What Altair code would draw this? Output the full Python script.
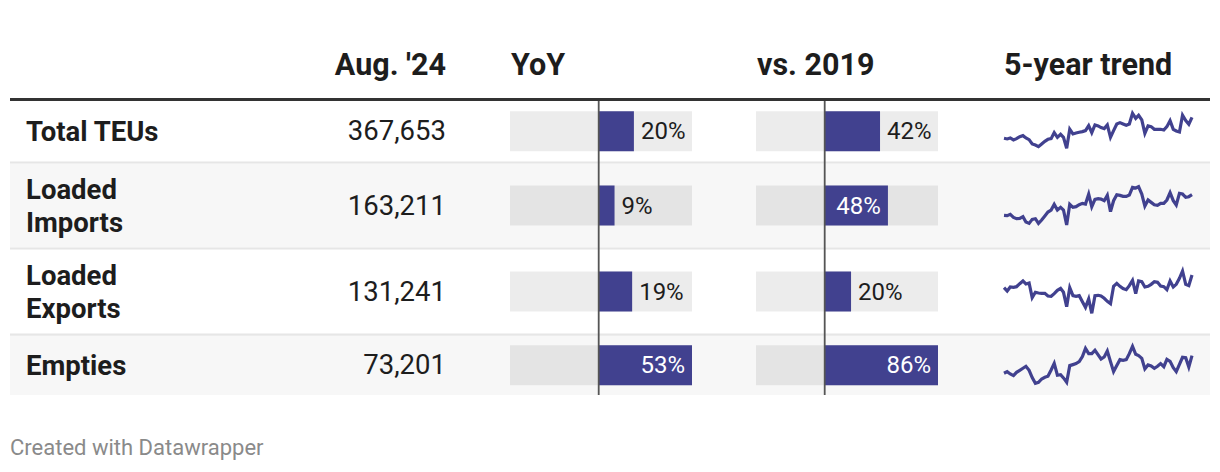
import altair as alt
import pandas as pd

# ---------------- data ----------------
categories = ["Total TEUs", "Loaded Imports", "Loaded Exports", "Empties"]
category_lines = [["Total TEUs"], ["Loaded", "Imports"], ["Loaded", "Exports"], ["Empties"]]
aug24_teus = [367653, 163211, 131241, 73201]
yoy_pct = [20, 9, 19, 53]
vs2019_pct = [42, 48, 20, 86]
column_headers = ["Aug. '24", "YoY", "vs. 2019", "5-year trend"]
footer_text = "Created with Datawrapper"
trend_start, trend_end = "2019-08-01", "2024-08-01"

# monthly volumes, thousand TEUs (read from the sparklines)
trend_total = [259.3, 255.9, 261.1, 250.7, 257.6, 267.9, 273.1, 261.1, 252.5, 230.1,
               224.9, 216.3, 230.1, 243.9, 254.2, 257.6, 288.6, 264.5, 280.0, 264.5,
               207.7, 305.8, 281.7, 286.9, 290.3, 293.7, 298.9, 324.7, 288.6, 328.1,
               323.0, 314.4, 309.2, 328.1, 264.5, 298.9, 333.3, 340.2, 333.3, 326.4,
               333.3, 388.3, 362.5, 378.0, 353.9, 285.1, 323.0, 319.5, 305.8, 305.8,
               305.8, 302.3, 319.5, 350.5, 305.8, 297.2, 292.0, 378.0, 350.5, 331.6, 367.7]
trend_imports = [110.3, 109.5, 112.9, 105.2, 101.8, 102.6, 106.9, 93.3, 89.8, 100.1,
                 101.8, 89.8, 98.4, 108.6, 118.8, 124.0, 138.5, 124.0, 130.8, 124.0,
                 85.6, 138.5, 130.8, 132.5, 137.6, 141.0, 139.3, 164.9, 132.5, 151.3,
                 153.0, 152.1, 147.8, 161.5, 119.7, 147.8, 163.2, 161.5, 158.9, 158.9,
                 162.3, 182.0, 180.3, 183.7, 164.9, 134.2, 149.6, 143.6, 137.6, 135.9,
                 141.0, 141.0, 149.6, 168.3, 147.8, 136.8, 166.6, 164.9, 156.4, 158.1, 163.2]
trend_exports = [109.4, 103.6, 110.5, 110.0, 111.1, 116.3, 120.9, 115.7, 117.4, 92.2,
                 101.4, 100.2, 99.6, 99.6, 95.0, 94.5, 99.1, 104.8, 108.2, 101.4,
                 76.7, 109.4, 95.6, 94.5, 95.6, 85.3, 75.5, 89.9, 65.2, 95.6,
                 96.2, 95.0, 91.0, 85.9, 81.8, 111.7, 116.8, 111.7, 107.7, 105.9,
                 112.8, 122.0, 99.1, 120.9, 119.7, 110.5, 111.7, 115.1, 119.7, 118.6,
                 112.3, 111.1, 105.9, 120.9, 110.5, 115.1, 125.5, 138.1, 115.1, 112.8, 131.2]
trend_empties = [39.4, 42.6, 38.1, 34.9, 41.3, 45.1, 49.0, 52.8, 45.1, 31.1,
                 20.2, 22.2, 28.5, 31.7, 33.6, 45.8, 58.5, 35.6, 36.8, 30.5,
                 22.2, 54.1, 56.0, 57.9, 61.7, 71.3, 87.2, 77.0, 77.0, 83.4,
                 74.5, 66.8, 70.6, 82.1, 61.7, 42.6, 54.1, 65.5, 64.3, 65.5,
                 77.0, 91.1, 75.8, 73.2, 68.1, 47.7, 55.3, 53.4, 49.0, 52.8,
                 57.9, 52.1, 66.2, 62.4, 50.2, 42.6, 56.6, 70.0, 69.4, 51.5, 73.2]
trends = [trend_total, trend_imports, trend_exports, trend_empties]

# ---------------- layout (page pixels) ----------------
W, H = 1204, 455
M = 8


def px(v):
    return v - M


ROW_TOP = [101.0, 163.5, 249.5, 335.7]
ROW_H = [60.5, 84.0, 84.0, 59.3]
ROW_FILL = ["#ffffff", "#f7f7f7", "#ffffff", "#f7f7f7"]
SEP_COLOR = "#e6e6e6"
TABLE_L, TABLE_R = 10, 1210
BAR_H = 40
LINE_H = 33
YOY_COL = (510, 598.7, 692)
VS_COL = (756, 824.7, 938)
SPARK_X = (1004, 1192)
SPARK_Y = [(113.3, 148.3), (186.7, 225.0), (271.0, 313.3), (346.3, 383.3)]
NAVY = "#41418f"
INK = "#1d1d1d"
FONT = "Roboto"
INSIDE_MIN_PX = 60


def ident_x():
    return alt.Scale(domain=[0, W], range=[0, W], nice=False, zero=False)


def ident_y():
    return alt.Scale(domain=[0, H], range=[0, H], nice=False, zero=False)


def bar_domain(values, col):
    left, zero, right = col
    vmax = max(values)
    vmin = -vmax * (zero - left) / (right - zero)
    return vmin, vmax


def bar_scale(values, col):
    vmin, vmax = bar_domain(values, col)
    return alt.Scale(domain=[vmin, vmax], range=[px(col[0]), px(col[2])], nice=False, zero=False)


yoy_lo, yoy_hi = bar_domain(yoy_pct, YOY_COL)
vs_lo, vs_hi = bar_domain(vs2019_pct, VS_COL)

row_records = []
line_records = []
for i, cat in enumerate(categories):
    top = ROW_TOP[i]
    bot = top + ROW_H[i]
    mid = (top + bot) / 2
    yoy_w = yoy_pct[i] * (YOY_COL[2] - YOY_COL[1]) / yoy_hi
    vs_w = vs2019_pct[i] * (VS_COL[2] - VS_COL[1]) / vs_hi
    row_records.append(dict(
        category=cat, top=px(top), bottom=px(bot), mid=px(mid), text_mid=px(mid + 1),
        bar_top=px(mid - BAR_H / 2), bar_bottom=px(mid + BAR_H / 2),
        left=px(TABLE_L), right=px(TABLE_R), fill=ROW_FILL[i],
        teus=f"{aug24_teus[i]:,}", num_x=px(446),
        zero=0, yoy=yoy_pct[i], vs=vs2019_pct[i],
        yoy_label=f"{yoy_pct[i]}%", vs_label=f"{vs2019_pct[i]}%",
        yoy_in=bool(yoy_w >= INSIDE_MIN_PX), vs_in=bool(vs_w >= INSIDE_MIN_PX),
        yoy_lo=yoy_lo, yoy_hi=yoy_hi, vs_lo=vs_lo, vs_hi=vs_hi,
    ))
    lines = category_lines[i]
    n = len(lines)
    for j, ln in enumerate(lines):
        line_records.append(dict(text=ln, x=px(26), y=px(mid + 1.5 + (j - (n - 1) / 2) * LINE_H)))

sep_records = []
for i in range(len(categories) - 1):
    b = ROW_TOP[i] + ROW_H[i]
    sep_records.append(dict(left=px(TABLE_L), right=px(TABLE_R), top=px(b), bottom=px(ROW_TOP[i + 1])))

rows = alt.Data(values=row_records)
layers = []

# row backgrounds
layers.append(alt.Chart(rows).mark_rect().encode(
    x=alt.X("left:Q", scale=ident_x(), axis=None), x2="right:Q",
    y=alt.Y("top:Q", scale=ident_y(), axis=None), y2="bottom:Q",
    color=alt.Color("fill:N", scale=None),
))
# separators
layers.append(alt.Chart(alt.Data(values=sep_records)).mark_rect(color=SEP_COLOR).encode(
    x=alt.X("left:Q", scale=ident_x(), axis=None), x2="right:Q",
    y=alt.Y("top:Q", scale=ident_y(), axis=None), y2="bottom:Q",
))
# heavy header rule
layers.append(alt.Chart(alt.Data(values=[dict(left=px(TABLE_L), right=px(TABLE_R), top=px(98), bottom=px(101))]))
              .mark_rect(color="#333333").encode(
    x=alt.X("left:Q", scale=ident_x(), axis=None), x2="right:Q",
    y=alt.Y("top:Q", scale=ident_y(), axis=None), y2="bottom:Q",
))


def bar_layers(field, values, col, lo, hi, label, inside):
    sc = bar_scale(values, col)
    out = []
    out.append(alt.Chart(rows).mark_rect(color="#000000", opacity=0.075).encode(
        x=alt.X(f"{lo}:Q", scale=sc, axis=None), x2=f"{hi}:Q",
        y=alt.Y("bar_top:Q", scale=ident_y(), axis=None), y2="bar_bottom:Q",
    ))
    out.append(alt.Chart(rows).mark_rect(color=NAVY).encode(
        x=alt.X("zero:Q", scale=sc, axis=None), x2=f"{field}:Q",
        y=alt.Y("bar_top:Q", scale=ident_y(), axis=None), y2="bar_bottom:Q",
    ))
    out.append(alt.Chart(alt.Data(values=[dict(zero=0, y0=px(101), y1=px(395))]))
               .mark_rule(color="#555555", strokeWidth=1.8).encode(
        x=alt.X("zero:Q", scale=sc, axis=None),
        y=alt.Y("y0:Q", scale=ident_y(), axis=None), y2="y1:Q",
    ))
    out.append(alt.Chart(rows).transform_filter(f"!datum.{inside}").mark_text(
        align="left", baseline="middle", dx=7, font=FONT, fontSize=24, color=INK).encode(
        x=alt.X(f"{field}:Q", scale=sc, axis=None),
        y=alt.Y("text_mid:Q", scale=ident_y(), axis=None),
        text=f"{label}:N",
    ))
    out.append(alt.Chart(rows).transform_filter(f"datum.{inside}").mark_text(
        align="right", baseline="middle", dx=-7, font=FONT, fontSize=24, color="#ffffff").encode(
        x=alt.X(f"{field}:Q", scale=sc, axis=None),
        y=alt.Y("text_mid:Q", scale=ident_y(), axis=None),
        text=f"{label}:N",
    ))
    return out


layers += bar_layers("yoy", yoy_pct, YOY_COL, "yoy_lo", "yoy_hi", "yoy_label", "yoy_in")
layers += bar_layers("vs", vs2019_pct, VS_COL, "vs_lo", "vs_hi", "vs_label", "vs_in")

# category labels
layers.append(alt.Chart(alt.Data(values=line_records)).mark_text(
    align="left", baseline="middle", font=FONT, fontSize=27.5, fontWeight="bold", color=INK).encode(
    x=alt.X("x:Q", scale=ident_x(), axis=None),
    y=alt.Y("y:Q", scale=ident_y(), axis=None),
    text="text:N",
))
# Aug '24 values
layers.append(alt.Chart(rows).mark_text(
    align="right", baseline="middle", font=FONT, fontSize=27.5, color=INK).encode(
    x=alt.X("num_x:Q", scale=ident_x(), axis=None),
    y=alt.Y("text_mid:Q", scale=ident_y(), axis=None),
    text="teus:N",
))

# headers
hdr_x = [446, 511, 757, 1004]
hdr_records = [dict(text=t, x=px(hdr_x[k]), y=px(75), right=(k == 0)) for k, t in enumerate(column_headers)]
hdr = alt.Data(values=hdr_records)
for al, flt in (("right", "datum.right"), ("left", "!datum.right")):
    layers.append(alt.Chart(hdr).transform_filter(flt).mark_text(
        align=al, baseline="alphabetic", font=FONT, fontSize=30.5, fontWeight="bold", color=INK).encode(
        x=alt.X("x:Q", scale=ident_x(), axis=None),
        y=alt.Y("y:Q", scale=ident_y(), axis=None),
        text="text:N",
    ))

# sparklines
months = [d.strftime("%Y-%m-%d") for d in pd.date_range(trend_start, trend_end, freq="MS")]
for i, series in enumerate(trends):
    recs = [dict(month=m, teu=v) for m, v in zip(months, series)]
    top, bot = SPARK_Y[i]
    layers.append(alt.Chart(alt.Data(values=recs)).mark_line(color=NAVY, strokeWidth=3.2).encode(
        x=alt.X("month:T", scale=alt.Scale(range=[px(SPARK_X[0]), px(SPARK_X[1])], nice=False), axis=None),
        y=alt.Y("teu:Q", scale=alt.Scale(range=[px(bot), px(top)], zero=False, nice=False), axis=None),
    ))

# footer
layers.append(alt.Chart(alt.Data(values=[dict(text=footer_text, x=px(10), y=px(455))])).mark_text(
    align="left", baseline="alphabetic", font=FONT, fontSize=22, color="#8a8a8a").encode(
    x=alt.X("x:Q", scale=ident_x(), axis=None),
    y=alt.Y("y:Q", scale=ident_y(), axis=None),
    text="text:N",
))

chart = alt.layer(*layers).resolve_scale(x="independent", y="independent").properties(
    width=W, height=H, padding=0, autosize=alt.AutoSizeParams(type="none"), background="white",
).configure_view(stroke=None)

chart.save("out.html", embed_options={"renderer": "svg", "actions": False})
